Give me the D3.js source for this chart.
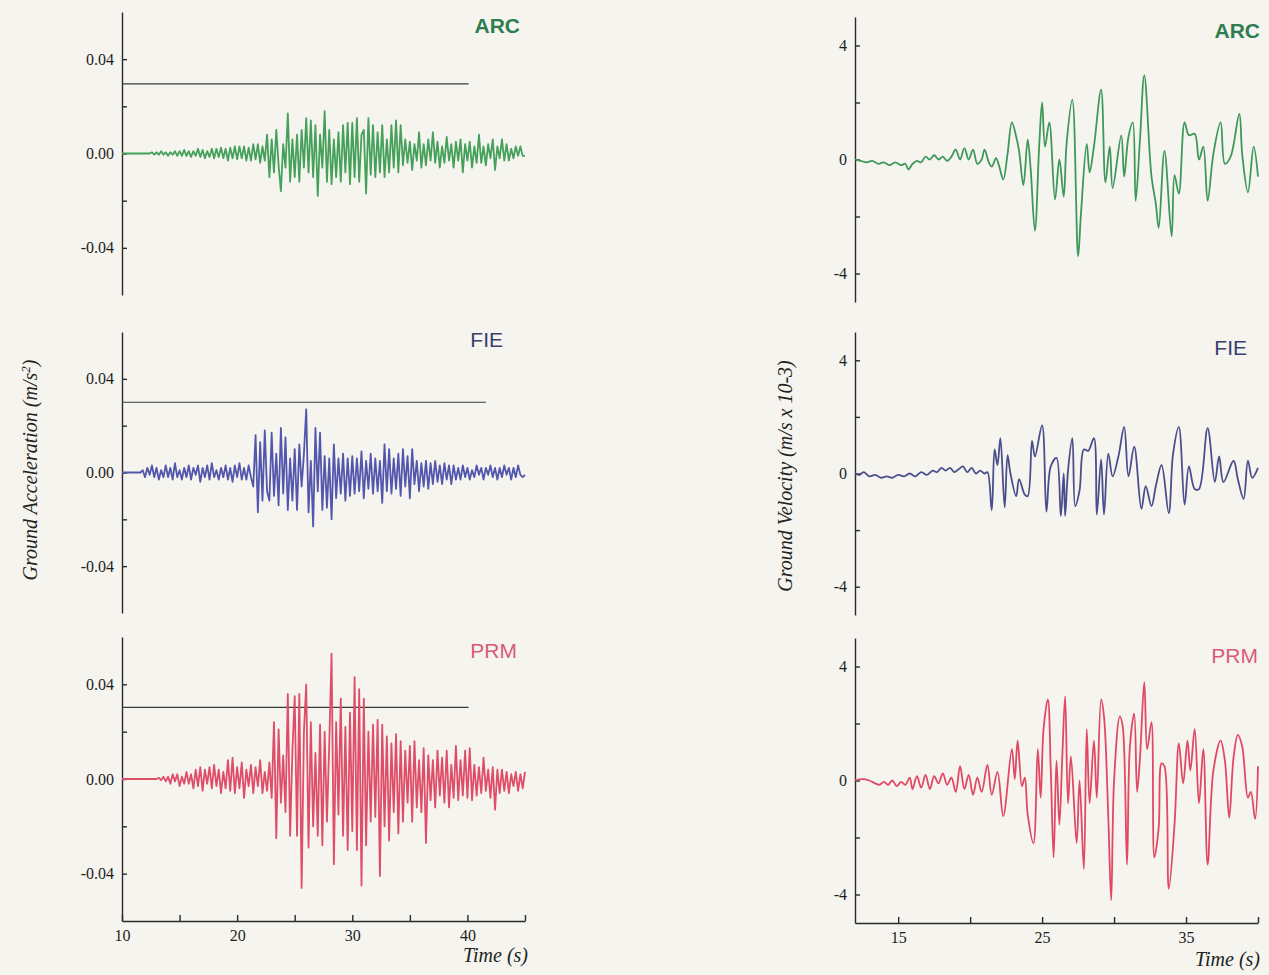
<!DOCTYPE html>
<html lang="en">
<head>
  <meta charset="UTF-8">
  <title>Ground acceleration and velocity - ARC, FIE, PRM</title>
  <script src="https://d3js.org/d3.v7.min.js"></script>
  <style>
    body { margin: 0; padding: 0; background: #f5f4ef; }
    .tick text { font-family: "Liberation Serif", serif; font-size: 16px; fill: #1e1e1e; }
    .axis path, .axis line { stroke: #2a2a2a; stroke-width: 1.4; }
    .title { font-family: "Liberation Serif", serif; font-style: italic; fill: #222; }
    .station { font-family: "Liberation Sans", Arial, sans-serif; font-size: 21px; }
  </style>
</head>
<body>
  <div id="chart"></div>
  <script>
    // stations, top to bottom
    const stations = ["ARC", "FIE", "PRM"];

    // acceleration traces, 10^-3 m/s^2, one sample every 0.2 s from t = 10 s
    const accStart = 10, accStep = 0.2;
    const accARC = [
      0,0,0,0,0,  0,0,0,0,0,  0,0,0,0.5,-0.5,  0.5,-0.5,1,-0.5,0.5,  -1,0.5,-0.5,1,-1,
      1,-1,1.5,-1,1,  -1.5,1,-1,2,-1.5,  1.5,-2,1,-1.5,2,  -2,2,-1.5,2.5,-2,  2,-3,2.5,-2,3,
      -2.5,3,-2,3,-3,  2.5,-3,4,-2.5,4,  -4,3,-3,8,-10,  6,-8,10,-5,-16,  4,-6,17,-12,6,
      -10,8,-12,10,-6,  15,-8,14,-10,12,  -18,8,-6,18,-12,  10,-13,6,-10,9,  -12,12,-8,13,-13,
      13,-10,15,-12,8,  10,-17,15,-9,12,  -10,9,-8,12,-10,  6,-8,12,-6,14,  -8,12,-5,6,-4,
      5,-7,4,-3,9,  -6,4,-5,6,-3,  9,-4,5,-6,3,  -4,7,-3,4,-6,  5,-3,6,-8,4,
      -3,5,-6,3,-4,  8,-4,3,-5,4,  -2,6,-7,3,-2,  6,-3,4,-3,2,  -2,3,-1,3,-1,  -1
    ];
    const accFIE = [
      0,0,0,0,0,  0,0,0,0,1,  -2,2,-1,3,-2,  2,-3,1,-2,3,  -2,2,-3,4,-2,
      1,-3,2,-2,3,  -3,2,-1,3,-4,  2,-2,3,-3,4,  -2,1,-3,2,-2,  3,-3,2,-4,3,
      -2,4,-3,2,-3,  3,-2,-6,16,-17,  13,-12,18,-8,-12,  17,-10,8,-14,19,  -9,15,-16,6,-12,
      10,-16,12,-6,8,  27,-17,5,-23,19,  -8,17,-16,7,-15,  6,-20,12,-11,6,  -9,8,-12,6,-10,
      7,-9,6,-8,9,  -11,5,-7,8,-9,  6,-8,5,-13,12,  -8,10,-9,6,-7,  8,-10,10,-6,7,
      -11,10,-5,5,-8,  4,-6,5,-7,4,  -5,5,-4,3,-5,  4,-3,3,-5,3,  -3,2,-3,3,-2,
      2,-3,1,-2,3,  -1,2,-3,2,-1,  3,-2,2,-3,2,  -2,3,-1,2,-3,  2,-2,3,-1,-2,  -1
    ];
    const accPRM = [
      0,0,0,0,0,  0,0,0,0,0,  0,0,0,0,0,  0,0.5,-0.5,1,-1,  1,-2,2,-1,2,
      -3,1,-2,3,-2,  2,-4,4,-3,5,  -5,4,-2,5,-4,  6,-3,4,-6,3,  -4,8,-5,9,-6,
      5,-4,7,-8,4,  -3,6,-6,5,-3,  8,-6,3,-5,7,  -8,24,-25,21,-10,  10,-14,36,-24,12,
      35,-24,36,-46,20,  40,-29,24,-20,11,  -24,23,-28,20,-18,  15,53,-36,24,-15,  34,-24,22,-30,28,
      -22,43,-30,38,-45,  34,-28,20,-18,23,  -16,25,-41,23,-20,  18,-26,15,-14,19,  -23,16,-18,12,-10,
      14,-18,16,-12,8,  -14,13,-27,10,-9,  8,-12,12,-7,9,  -10,12,-12,6,-8,  14,-9,8,-7,12,
      -8,13,-9,6,-7,  5,-6,9,-5,4,  -8,5,-13,4,-6,  4,-5,3,-6,2,  -3,3,-5,2,-4,  3
    ];

    // velocity traces, [time s, 10^-3 m/s]
    const velARC = [
      [12,0],[12.4,-0.05],[12.8,-0.1],[13.2,-0.05],[13.6,-0.15],[14,-0.1],[14.4,-0.2],[14.8,-0.1],
      [15.2,-0.2],[15.5,-0.15],[15.7,-0.35],[16,-0.15],[16.3,-0.05],[16.6,-0.1],[16.9,0.1],[17.2,0],
      [17.5,0.15],[17.8,0],[18.1,0.1],[18.4,-0.05],[18.7,0.1],[19,0.35],[19.3,0],[19.6,0.4],
      [19.9,0],[20.2,0.35],[20.5,-0.15],[20.8,0],[21,0.35],[21.3,-0.1],[21.5,-0.25],[21.8,0.05],
      [22,-0.2],[22.3,-0.7],[22.6,0.2],[22.9,1.3],[23.2,0.8],[23.4,0.3],[23.7,-0.9],[24,0.7],
      [24.2,-0.3],[24.5,-2.5],[24.8,0.5],[25,2],[25.2,0.45],[25.5,1.3],[25.9,-1.4],[26.2,0],
      [26.5,-1.3],[26.7,0.55],[27.1,2.1],[27.5,-3.4],[27.7,-1.9],[28.1,0.55],[28.3,-0.45],[28.6,0.45],
      [29.1,2.45],[29.4,-0.8],[29.7,0.45],[29.9,-1],[30.5,0.85],[30.7,-0.6],[31,0.8],[31.3,1.3],
      [31.5,-1.45],[31.8,0.7],[32.1,2.95],[32.6,-0.6],[32.9,-1.55],[33.1,-2.4],[33.5,0.3],[34,-2.7],
      [34.2,-0.55],[34.5,-1.2],[34.9,1.3],[35.2,0.85],[35.6,0.9],[35.9,0],[36.2,0.45],[36.5,-1.45],
      [36.9,0.2],[37.4,1.3],[37.7,-0.15],[38.1,0.1],[38.7,1.6],[38.9,0.2],[39.3,-1.15],[39.7,0.45],[40,-0.6]
    ];
    const velFIE = [
      [12,0],[12.3,-0.05],[12.6,0.05],[13,-0.1],[13.4,-0.05],[13.8,-0.15],[14.2,-0.1],[14.6,-0.15],
      [15,-0.05],[15.4,-0.1],[15.8,0],[16.2,-0.1],[16.6,0.05],[17,-0.05],[17.4,0.1],[17.7,0.05],
      [18,0.2],[18.3,0.1],[18.6,0.2],[18.9,0.05],[19.2,0.15],[19.5,0.25],[19.8,0.05],[20.1,0.2],
      [20.4,0],[20.7,0.1],[21,0],[21.2,0.05],[21.5,-1.3],[21.7,0.85],[21.9,0.3],[22.1,1.25],
      [22.4,-1.2],[22.6,0.65],[22.8,0],[23.2,-0.8],[23.4,-0.2],[23.8,-0.75],[24,-0.8],[24.3,1.15],
      [24.5,0.6],[25,1.7],[25.3,-1.35],[25.6,0.25],[26,0.55],[26.3,-1.5],[26.5,0],[26.6,-1.5],
      [26.8,0.1],[27.1,1.25],[27.3,-1.15],[27.6,-0.6],[27.9,0.85],[28.2,0.8],[28.6,1.25],[28.8,-1.45],
      [29.1,0.5],[29.3,-1.45],[29.6,0.7],[29.9,-0.1],[30.3,0.6],[30.7,1.65],[31,-0.1],[31.4,0.95],
      [31.9,-1.25],[32.2,-0.45],[32.6,-1.15],[32.9,-0.45],[33.3,0.3],[33.8,-1.4],[34.1,0.7],[34.5,1.65],
      [34.9,-1.1],[35.2,0.25],[35.6,-0.55],[35.9,-0.55],[36.5,1.6],[37,-0.3],[37.3,0.6],[37.6,-0.3],
      [38.3,0.45],[38.6,-0.2],[39,-0.9],[39.3,0.45],[39.6,-0.15],[40,0.2]
    ];
    const velPRM = [
      [12,0],[12.5,0.05],[13,0],[13.4,-0.1],[13.7,-0.15],[14,-0.05],[14.3,-0.15],[14.6,0],
      [14.9,-0.2],[15.2,-0.05],[15.5,-0.15],[15.8,0.1],[16,-0.3],[16.3,0.15],[16.6,-0.25],[16.9,0.2],
      [17.2,-0.3],[17.5,0.15],[17.8,-0.1],[18.1,0.25],[18.4,-0.15],[18.7,0.1],[19,-0.4],[19.3,0.5],
      [19.6,-0.3],[19.9,0.2],[20.2,-0.5],[20.5,0.1],[20.8,-0.4],[21.2,0.55],[21.5,-0.5],[21.9,0.3],
      [22.3,-1.25],[22.9,1.1],[23.1,0.05],[23.3,1.4],[23.6,-0.2],[23.8,0.1],[24,-1.2],[24.4,-2.2],
      [24.7,1.1],[24.9,-0.6],[25.1,1.8],[25.4,2.85],[25.6,0.4],[25.8,-2.7],[26,0.7],[26.2,-1.55],
      [26.4,0.8],[26.6,2.95],[26.8,-0.8],[27,0.85],[27.4,-2.2],[27.6,0],[27.9,-3.1],[28.1,1.8],
      [28.3,-0.8],[28.6,1.4],[28.8,-0.6],[29.1,2.85],[29.3,2.25],[29.6,-1.3],[29.8,-4.2],[30,0],
      [30.4,2.25],[30.6,1.9],[30.9,-2.95],[31.1,1.2],[31.4,2.35],[31.6,-0.4],[31.8,0.8],[32.1,3.45],
      [32.3,1.1],[32.6,2.05],[32.8,-2.7],[33.1,-1.65],[33.3,0.6],[33.5,0.5],[33.8,-3.8],[34.2,-1.55],
      [34.5,1.3],[34.8,-0.1],[35.1,1.4],[35.3,0.35],[35.6,1.8],[35.9,-0.8],[36.2,1.1],[36.5,-2.95],
      [36.9,0.35],[37.4,1.4],[37.7,0.7],[38,-1.3],[38.3,0.8],[38.6,1.6],[38.9,1.2],[39.3,-0.6],
      [39.5,-0.4],[39.8,-1.35],[40,0.5]
    ];

    // flat reference line drawn in the acceleration panels (level m/s^2, end time s)
    const markerLevel = [0.0295, 0.030, 0.0303];
    const markerEnd = [40.1, 41.6, 40.1];

    // ticks
    const accTicks = [-0.04, 0, 0.04], accMinor = [-0.02, 0.02];
    const velTicks = [-4, 0, 4], velMinor = [-2, 2];
    const timeTicksL = [10, 20, 30, 40], timeMinorL = [15, 25, 35, 45];
    const timeTicksR = [15, 25, 35], timeMinorR = [20, 30, 40];

    const accColors = ["#45a05a", "#5256ad", "#df4d69"];
    const velColors = ["#3d985a", "#4a4e8c", "#e04864"];
    const labelColors = ["#2e7d4f", "#3a3f6e", "#d95c77"];

    // plain hyphen for negatives, as printed
    const hy = f => d => f(d).replace("\u2212", "-");

    const W = 1269, H = 975;
    const svg = d3.select("#chart").append("svg")
      .attr("width", W).attr("height", H);
    svg.append("rect").attr("width", W).attr("height", H).attr("fill", "#f5f4ef");

    const xL = d3.scaleLinear().domain([10, 45]).range([122, 525]);
    const xR = d3.scaleLinear().domain([12, 40]).range([855, 1258]);

    // vertical extent of each row (bottom, top)
    const rowsL = [[295, 12], [613, 332], [921, 637]];
    const rowsR = [[302, 17], [615, 332], [923, 638]];
    const labelL = [[520, 33], [503, 347], [517, 658]];
    const labelR = [[1260, 38], [1247, 355], [1258, 663]];

    const accData = [accARC, accFIE, accPRM];
    const velData = [velARC, velFIE, velPRM];

    function yAxis(g, y, ticks, minor, fmt, x0) {
      g.append("g").attr("class", "axis")
        .attr("transform", `translate(${x0},0)`)
        .call(d3.axisLeft(y).tickValues(ticks).tickFormat(fmt)
          .tickSizeInner(-5).tickSizeOuter(0).tickPadding(8));
      g.append("g").attr("class", "axis")
        .attr("transform", `translate(${x0},0)`)
        .call(d3.axisLeft(y).tickValues(minor).tickFormat("")
          .tickSizeInner(-5).tickSizeOuter(0))
        .select(".domain").remove();
    }

    function xAxis(g, x, ticks, minor, y0) {
      g.append("g").attr("class", "axis")
        .attr("transform", `translate(0,${y0})`)
        .call(d3.axisBottom(x).tickValues(ticks).tickFormat(d3.format("d"))
          .tickSizeInner(-6).tickSizeOuter(0).tickPadding(9));
      g.append("g").attr("class", "axis")
        .attr("transform", `translate(0,${y0})`)
        .call(d3.axisBottom(x).tickValues(minor).tickFormat("")
          .tickSizeInner(-6).tickSizeOuter(0))
        .select(".domain").remove();
    }

    // acceleration column
    stations.forEach((name, i) => {
      const g = svg.append("g");
      const y = d3.scaleLinear().domain([-0.06, 0.06]).range(rowsL[i]);
      yAxis(g, y, accTicks, accMinor, hy(d3.format(".2f")), xL(10));
      if (i === 2) xAxis(g, xL, timeTicksL, timeMinorL, rowsL[i][0]);

      g.append("line")
        .attr("x1", xL(10)).attr("x2", xL(markerEnd[i]))
        .attr("y1", y(markerLevel[i])).attr("y2", y(markerLevel[i]))
        .attr("stroke", "#3a3a3a").attr("stroke-width", 1.2);

      const line = d3.line()
        .x((d, k) => xL(accStart + k * accStep))
        .y(d => y(d / 1000));
      g.append("path").datum(accData[i])
        .attr("d", line)
        .attr("fill", "none")
        .attr("stroke", accColors[i])
        .attr("stroke-width", 1.8)
        .attr("stroke-linejoin", "round");

      g.append("text").attr("class", "station")
        .attr("x", labelL[i][0]).attr("y", labelL[i][1])
        .attr("text-anchor", "end")
        .attr("font-weight", i === 0 ? "bold" : "normal")
        .attr("fill", labelColors[i])
        .text(name);
    });

    // velocity column
    stations.forEach((name, i) => {
      const g = svg.append("g");
      const y = d3.scaleLinear().domain([-5, 5]).range(rowsR[i]);
      yAxis(g, y, velTicks, velMinor, hy(d3.format("d")), xR(12));
      if (i === 2) xAxis(g, xR, timeTicksR, timeMinorR, rowsR[i][0]);

      const line = d3.line()
        .x(d => xR(d[0]))
        .y(d => y(d[1]))
        .curve(d3.curveCatmullRom.alpha(0.5));
      g.append("path").datum(velData[i])
        .attr("d", line)
        .attr("fill", "none")
        .attr("stroke", velColors[i])
        .attr("stroke-width", 1.8)
        .attr("stroke-linejoin", "round");

      g.append("text").attr("class", "station")
        .attr("x", labelR[i][0]).attr("y", labelR[i][1])
        .attr("text-anchor", "end")
        .attr("font-weight", i === 0 ? "bold" : "normal")
        .attr("fill", labelColors[i])
        .text(name);
    });

    // axis titles
    const accTitle = svg.append("text").attr("class", "title")
      .attr("transform", "translate(37,470) rotate(-90)")
      .attr("text-anchor", "middle")
      .style("font-size", "20px");
    accTitle.append("tspan").text("Ground Acceleration (m/s");
    accTitle.append("tspan").attr("dy", -7).style("font-size", "13px").text("2");
    accTitle.append("tspan").attr("dy", 7).text(")");

    svg.append("text").attr("class", "title")
      .attr("transform", "translate(792,476) rotate(-90)")
      .attr("text-anchor", "middle")
      .style("font-size", "20px")
      .text("Ground Velocity (m/s x 10-3)");

    svg.append("text").attr("class", "title")
      .attr("x", 528).attr("y", 962).attr("text-anchor", "end")
      .style("font-size", "20px").text("Time (s)");
    svg.append("text").attr("class", "title")
      .attr("x", 1260).attr("y", 966).attr("text-anchor", "end")
      .style("font-size", "20px").text("Time (s)");
  </script>
</body>
</html>
